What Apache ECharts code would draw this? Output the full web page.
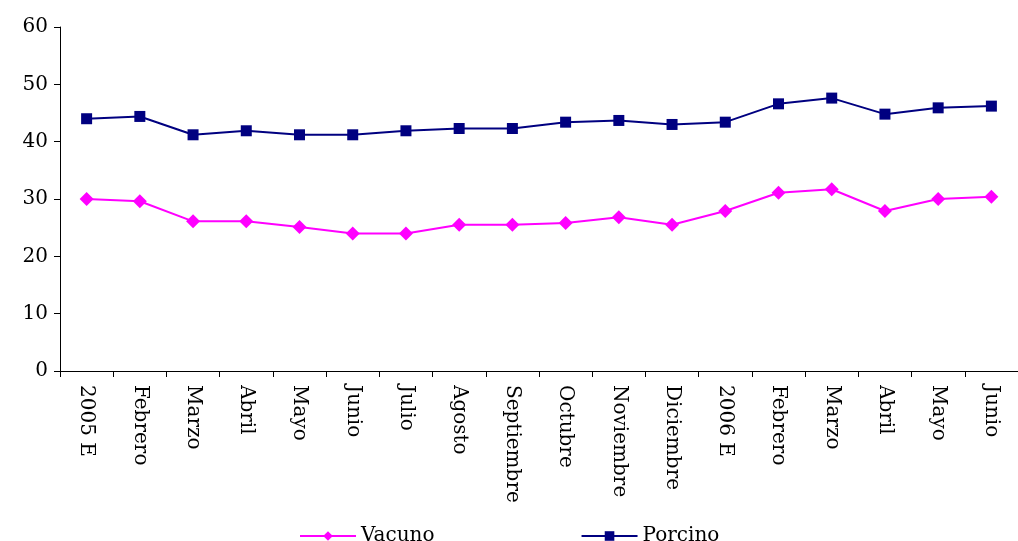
<!DOCTYPE html>
<html><head><meta charset="utf-8">
<script src="https://cdn.jsdelivr.net/npm/echarts@6/dist/echarts.min.js"></script>
<style>html,body{margin:0;padding:0;background:#fff}#c{width:1018px;height:541px}</style>
</head><body><div id="c"></div>
<script>
var categories = ['2005 E','Febrero','Marzo','Abril','Mayo','Junio','Julio','Agosto','Septiembre','Octubre','Noviembre','Diciembre','2006 E','Febrero','Marzo','Abril','Mayo','Junio'];
var vacuno = [30.0,29.6,26.1,26.1,25.1,24.0,24.0,25.5,25.5,25.8,26.8,25.5,27.9,31.1,31.7,27.9,30.0,30.4];
var porcino = [44.0,44.4,41.2,41.9,41.2,41.2,41.9,42.3,42.3,43.4,43.7,43.0,43.4,46.6,47.6,44.8,45.9,46.2];
var yTicks = [0,10,20,30,40,50,60];
var font = 'DejaVu Serif';
var chart = echarts.init(document.getElementById('c'));
chart.setOption({
  animation:false,
  grid:{left:60,top:27,width:966,height:344,containLabel:false},
  legend:{bottom:-10,left:294,itemGap:146,itemWidth:56,itemHeight:12,
    textStyle:{fontFamily:font,fontSize:20,color:'#000'},
    data:['Vacuno','Porcino']},
  xAxis:{type:'category',data:categories,boundaryGap:true,
    axisLine:{lineStyle:{color:'#000'}},
    axisTick:{show:true,length:6,lineStyle:{color:'#000'}},
    axisLabel:{rotate:-90,interval:0,fontFamily:font,fontSize:20,color:'#000',margin:14}},
  yAxis:{type:'value',min:0,max:60,interval:10,
    axisLine:{show:true,lineStyle:{color:'#000'}},
    axisTick:{show:true,length:6,lineStyle:{color:'#000'}},
    splitLine:{show:false},
    axisLabel:{fontFamily:font,fontSize:20,color:'#000',margin:12,
      formatter:function(v){return yTicks.indexOf(v)>=0?String(v):'';}}},
  series:[
    {name:'Vacuno',type:'line',data:vacuno,symbol:'diamond',symbolSize:14,
      itemStyle:{color:'#ff00ff'},lineStyle:{color:'#ff00ff',width:2}},
    {name:'Porcino',type:'line',data:porcino,symbol:'rect',symbolSize:11,
      itemStyle:{color:'#000080'},lineStyle:{color:'#000080',width:2}}
  ]
});
</script></body></html>
